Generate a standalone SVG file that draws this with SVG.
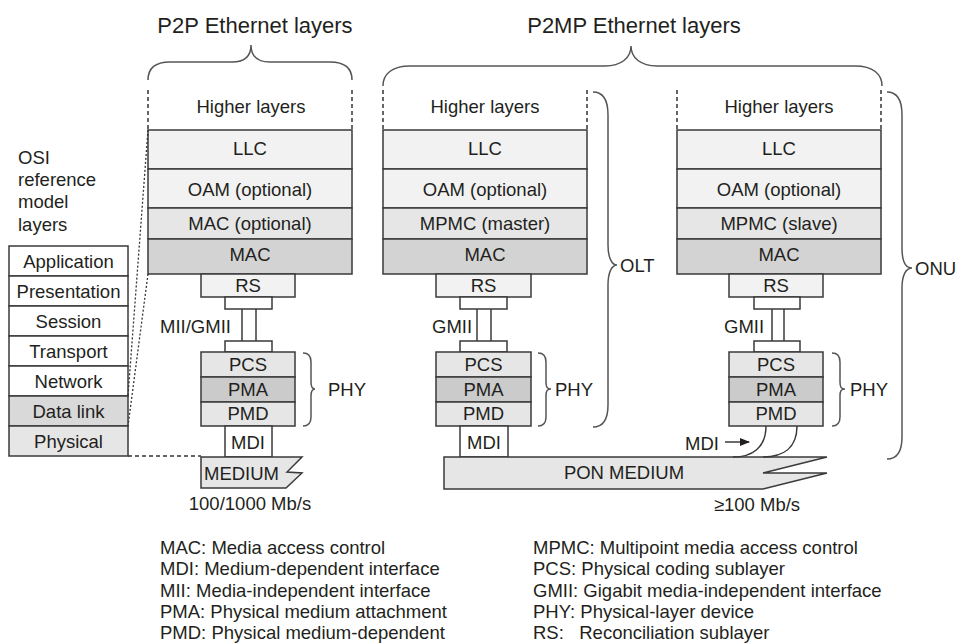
<svg xmlns="http://www.w3.org/2000/svg" width="962" height="644" viewBox="0 0 962 644">
<defs>
<style>
text{font-family:"Liberation Sans",Arial,sans-serif;font-size:18.5px;fill:#231f20}
.c{text-anchor:middle}
.t{font-size:22px}
.box{stroke:#3a3a3a;stroke-width:1.5}
.w{fill:#ffffff}
.l1{fill:#f2f2f2}
.l2{fill:#e6e6e6}
.l3{fill:#d3d3d3}
.pma{fill:#cbcbcb}
.dl{fill:#d9d9d9}
.br{fill:none;stroke:#555;stroke-width:1.5}
.dash{fill:none;stroke:#333;stroke-width:1.5;stroke-dasharray:4 3}
.dot{fill:none;stroke:#333;stroke-width:1.3;stroke-dasharray:2 2}
.ln{fill:none;stroke:#3a3a3a;stroke-width:1.5}
</style>
<marker id="ah" markerWidth="10" markerHeight="8" refX="9" refY="4" orient="auto" markerUnits="userSpaceOnUse">
<path d="M0,0 L10,4 L0,8 Z" fill="#231f20"/>
</marker>
</defs>
<rect width="962" height="644" fill="#ffffff"/>

<!-- Titles -->
<text class="c t" x="255" y="33">P2P Ethernet layers</text>
<text class="c t" x="634" y="33">P2MP Ethernet layers</text>

<!-- OSI -->
<g id="osi">
<text x="18" y="164">OSI</text>
<text x="18" y="186">reference</text>
<text x="18" y="208">model</text>
<text x="18" y="231">layers</text>
<rect class="box w" x="9" y="246" width="119" height="30"/>
<rect class="box w" x="9" y="276" width="119" height="30"/>
<rect class="box w" x="9" y="306" width="119" height="30"/>
<rect class="box w" x="9" y="336" width="119" height="30"/>
<rect class="box w" x="9" y="366" width="119" height="30"/>
<rect class="box dl" x="9" y="396" width="119" height="30"/>
<rect class="box l2" x="9" y="426" width="119" height="30"/>
<text class="c" x="68.5" y="268">Application</text>
<text class="c" x="68.5" y="298">Presentation</text>
<text class="c" x="68.5" y="328">Session</text>
<text class="c" x="68.5" y="358">Transport</text>
<text class="c" x="68.5" y="388">Network</text>
<text class="c" x="68.5" y="418">Data link</text>
<text class="c" x="68.5" y="448">Physical</text>
</g>

<!-- P2P column -->
<g id="p2p">
<text class="c" x="251" y="113">Higher layers</text>
<rect class="box l1" x="148" y="130" width="204" height="39"/>
<rect class="box l1" x="148" y="169" width="204" height="39"/>
<rect class="box l2" x="148" y="208" width="204" height="31"/>
<rect class="box l3" x="148" y="239" width="204" height="35"/>
<text class="c" x="250" y="155">LLC</text>
<text class="c" x="250" y="196">OAM (optional)</text>
<text class="c" x="250" y="230">MAC (optional)</text>
<text class="c" x="250" y="261">MAC</text>
<rect class="box l1" x="201" y="274" width="94" height="23"/>
<text class="c" x="248" y="292">RS</text>
<rect class="box w" x="225" y="297" width="47" height="12"/>
<line class="ln" x1="242" y1="309" x2="242" y2="341"/>
<line class="ln" x1="256" y1="309" x2="256" y2="341"/>
<rect class="box w" x="225" y="341" width="47" height="11"/>
<text x="160" y="333">MII/GMII</text>
<rect class="box l2" x="201" y="352" width="94" height="25"/>
<rect class="box pma" x="201" y="377" width="94" height="25"/>
<rect class="box l2" x="201" y="402" width="94" height="24"/>
<text class="c" x="248" y="371">PCS</text>
<text class="c" x="248" y="396">PMA</text>
<text class="c" x="248" y="420">PMD</text>
<rect class="box w" x="225" y="426" width="47" height="31"/>
<text class="c" x="248" y="449">MDI</text>
<path class="box l2" d="M201,457 L302,457 L287,472 L302,473 L286,488 L201,488 Z"/>
<text x="204" y="480">MEDIUM</text>
<text class="c" x="250" y="510">100/1000 Mb/s</text>
<path class="br" d="M303,353 C309,353 311,356 311,362 L311,382 C311,387 312,389 315,389 C312,389 311,391 311,396 L311,417 C311,423 309,426 303,426"/>
<text x="328" y="396">PHY</text>
</g>

<!-- OLT column -->
<g id="olt">
<text class="c" x="485" y="113">Higher layers</text>
<rect class="box l1" x="383" y="130" width="204" height="39"/>
<rect class="box l1" x="383" y="169" width="204" height="39"/>
<rect class="box l2" x="383" y="208" width="204" height="31"/>
<rect class="box l3" x="383" y="239" width="204" height="35"/>
<text class="c" x="485" y="155">LLC</text>
<text class="c" x="485" y="196">OAM (optional)</text>
<text class="c" x="485" y="230">MPMC (master)</text>
<text class="c" x="485" y="261">MAC</text>
<rect class="box l1" x="436" y="274" width="95" height="23"/>
<text class="c" x="483.5" y="292">RS</text>
<rect class="box w" x="460" y="297" width="47" height="12"/>
<line class="ln" x1="477" y1="309" x2="477" y2="341"/>
<line class="ln" x1="491" y1="309" x2="491" y2="341"/>
<rect class="box w" x="460" y="341" width="47" height="11"/>
<text x="432" y="333">GMII</text>
<rect class="box l2" x="436" y="352" width="95" height="25"/>
<rect class="box pma" x="436" y="377" width="95" height="25"/>
<rect class="box l2" x="436" y="402" width="95" height="24"/>
<text class="c" x="483.5" y="371">PCS</text>
<text class="c" x="483.5" y="396">PMA</text>
<text class="c" x="483.5" y="420">PMD</text>
<rect class="box w" x="460" y="426" width="48" height="31"/>
<text class="c" x="484" y="449">MDI</text>
<path class="br" d="M538,353 C544,353 546,356 546,362 L546,382 C546,387 547,389 551,389 C547,389 546,391 546,396 L546,417 C546,423 544,426 538,426"/>
<text x="555" y="396">PHY</text>
<path class="br" d="M593,92 C603,92 608,100 608,115 L608,245 C608,258 612,265 617,265 C612,265 608,272 608,285 L608,405 C608,420 603,427 593,427"/>
<text x="620" y="272">OLT</text>
</g>

<!-- ONU column -->
<g id="onu">
<text class="c" x="779" y="113">Higher layers</text>
<rect class="box l1" x="677" y="130" width="204" height="39"/>
<rect class="box l1" x="677" y="169" width="204" height="39"/>
<rect class="box l2" x="677" y="208" width="204" height="31"/>
<rect class="box l3" x="677" y="239" width="204" height="35"/>
<text class="c" x="779" y="155">LLC</text>
<text class="c" x="779" y="196">OAM (optional)</text>
<text class="c" x="779" y="230">MPMC (slave)</text>
<text class="c" x="779" y="261">MAC</text>
<rect class="box l1" x="729" y="274" width="94" height="23"/>
<text class="c" x="776" y="292">RS</text>
<rect class="box w" x="754" y="297" width="46" height="12"/>
<line class="ln" x1="772" y1="309" x2="772" y2="341"/>
<line class="ln" x1="784" y1="309" x2="784" y2="341"/>
<rect class="box w" x="754" y="341" width="46" height="11"/>
<text x="724" y="333">GMII</text>
<rect class="box l2" x="729" y="352" width="94" height="25"/>
<rect class="box pma" x="729" y="377" width="94" height="25"/>
<rect class="box l2" x="729" y="402" width="94" height="24"/>
<text class="c" x="776" y="371">PCS</text>
<text class="c" x="776" y="396">PMA</text>
<text class="c" x="776" y="420">PMD</text>
<path class="br" d="M832,353 C838,353 840,356 840,362 L840,382 C840,387 841,389 845,389 C841,389 840,391 840,396 L840,417 C840,423 838,426 832,426"/>
<text x="850" y="396">PHY</text>
<path class="br" d="M887,92 C897,92 902,100 902,115 L902,248 C902,262 906,268 912,268 C906,268 902,275 902,288 L902,437 C902,452 897,459 887,459"/>
<text x="915" y="275">ONU</text>
<text x="685" y="450">MDI</text>
</g>

<!-- PON medium -->
<g id="pon">
<path class="box l2" d="M444,457 L827,457 L763,473 L827,473 L763,489 L444,489 Z"/>
<text class="c" x="624" y="479">PON MEDIUM</text>
<text class="c" x="757" y="511">≥100 Mb/s</text>
</g>

<!-- Braces and connectors -->
<g id="connectors">
<path class="br" d="M148,80 C148,68 155,62 170,62 L232,62 C245,62 251,56 251,45 C251,56 257,62 270,62 L330,62 C345,62 352,68 352,80"/>
<path class="br" d="M383,86 C383,74 392,66 410,66 L605,66 C621,66 631,58 631,46 C631,58 641,66 657,66 L855,66 C873,66 882,74 882,86"/>
<line class="dash" x1="148" y1="90" x2="148" y2="130"/>
<line class="dash" x1="352" y1="90" x2="352" y2="130"/>
<line class="dash" x1="383" y1="90" x2="383" y2="130"/>
<line class="dash" x1="587" y1="90" x2="587" y2="130"/>
<line class="dash" x1="677" y1="90" x2="677" y2="130"/>
<line class="dash" x1="881" y1="90" x2="881" y2="130"/>
<line class="dot" x1="148" y1="130" x2="128" y2="396"/>
<line class="dot" x1="148" y1="274" x2="128" y2="426"/>
<line class="dash" x1="128" y1="456" x2="201" y2="456"/>
<path class="ln" d="M766,426 C766,448 752,457 733,457"/>
<path class="ln" d="M797,426 C797,448 783,457 763,457"/>
<line class="ln" x1="725" y1="442" x2="749" y2="442" marker-end="url(#ah)"/>
</g>

<!-- Legend -->
<g id="legend">
<text x="160" y="554">MAC: Media access control</text>
<text x="160" y="575">MDI: Medium-dependent interface</text>
<text x="160" y="597">MII: Media-independent interface</text>
<text x="160" y="618">PMA: Physical medium attachment</text>
<text x="160" y="639">PMD: Physical medium-dependent</text>
<text x="533" y="554">MPMC: Multipoint media access control</text>
<text x="533" y="575">PCS: Physical coding sublayer</text>
<text x="533" y="597">GMII: Gigabit media-independent interface</text>
<text x="533" y="618">PHY: Physical-layer device</text>
<text x="533" y="639" xml:space="preserve">RS:   Reconciliation sublayer</text>
</g>
</svg>
